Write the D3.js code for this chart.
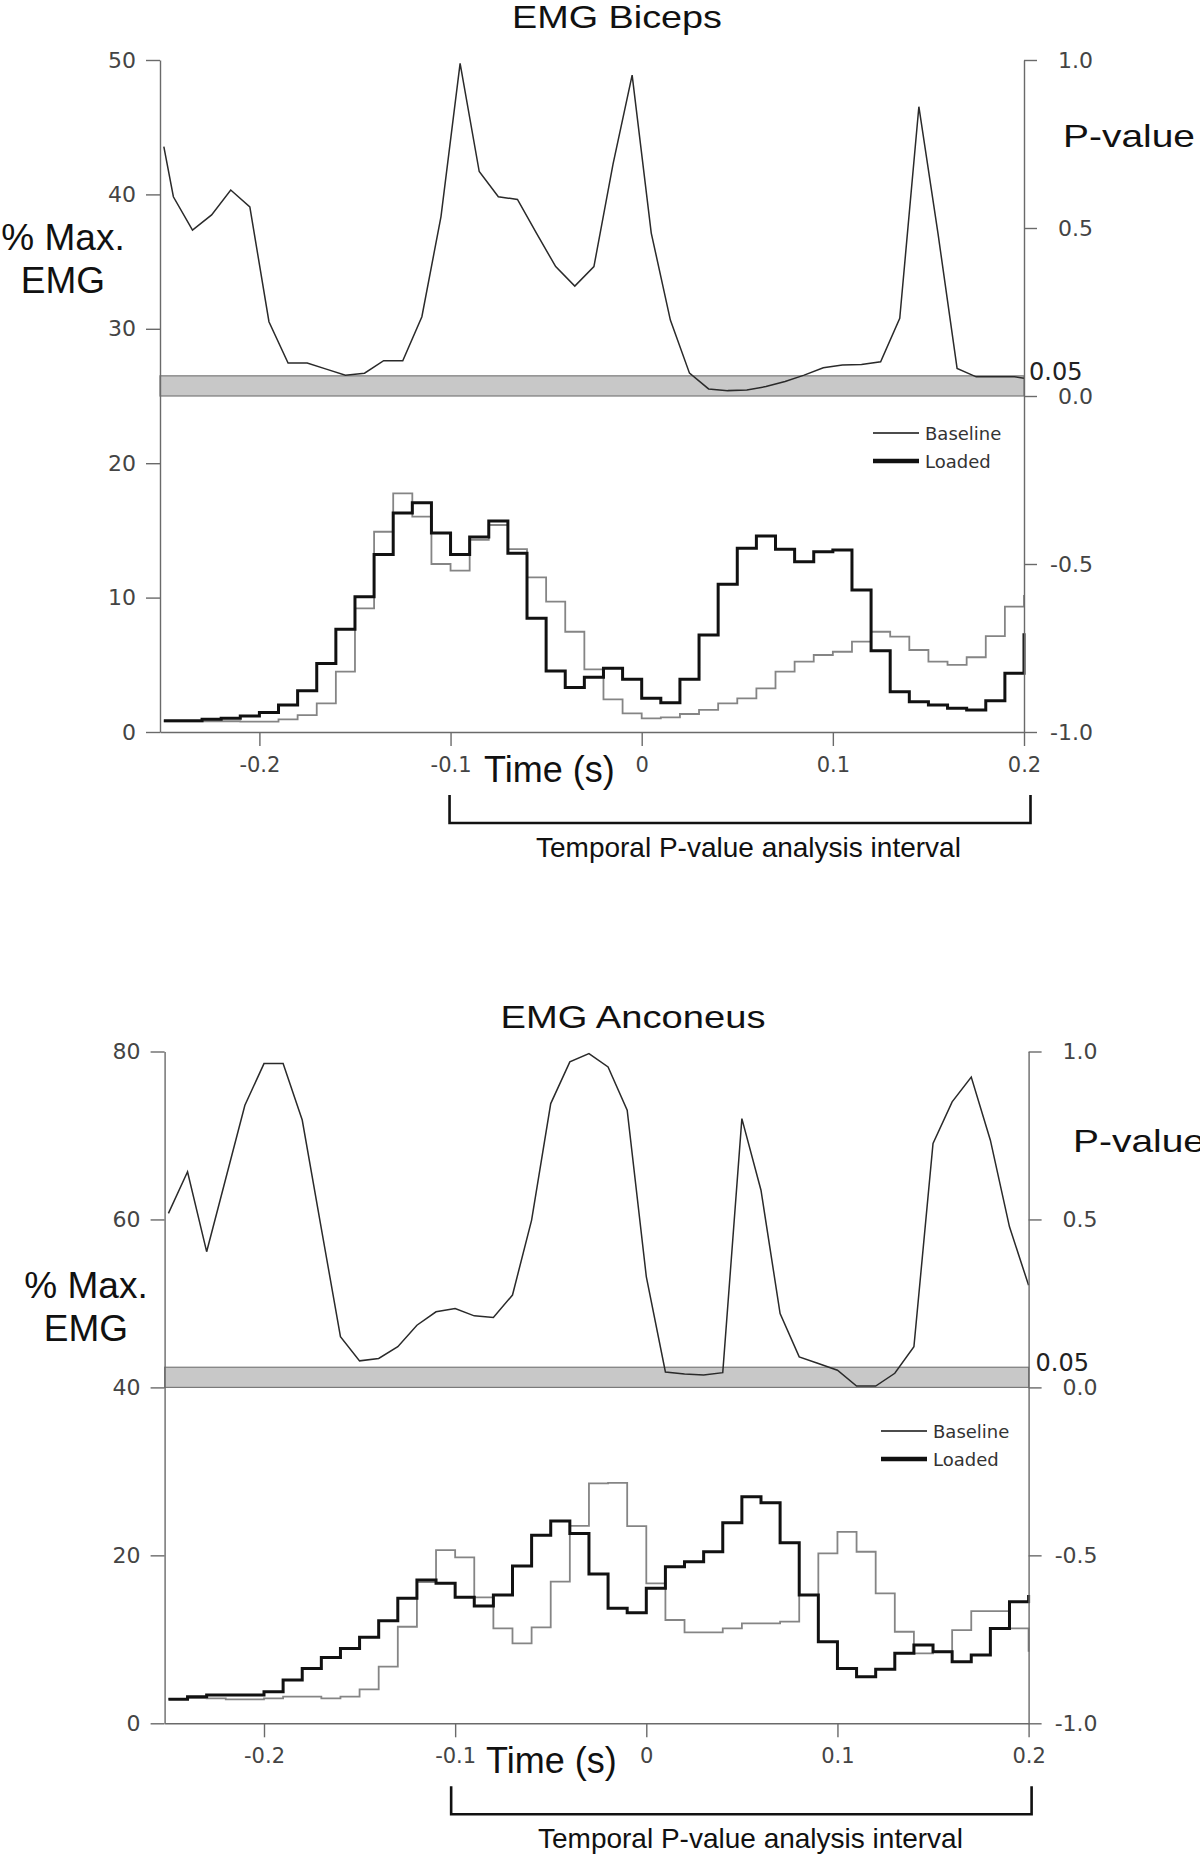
<!DOCTYPE html>
<html>
<head>
<meta charset="utf-8">
<script src="https://cdn.jsdelivr.net/npm/d3@7"></script>
<style>
  body { margin: 0; background: #fff; }
  .tick text { font-family: "DejaVu Sans", sans-serif; fill: #444; }
  .big { font-family: "Liberation Sans", Arial, sans-serif; fill: #111; }
</style>
</head>
<body>
<script>
// time grid: histogram bins are 10 ms wide, -0.25 s to 0.2 s (last entry closes the step)
const binTimes = d3.range(46).map(k => +(-0.25 + k * 0.01).toFixed(3));
// biceps P-values were sampled at bin centres, anconeus at bin edges
const bicepsPTimes = [-0.25].concat(d3.range(45).map(k => +(-0.245 + k * 0.01).toFixed(3)), [0.2]);
const anconeusPTimes = binTimes;

const timeTicks = [-0.2, -0.1, 0, 0.1, 0.2];
const pTicks = [-1, -0.5, 0, 0.5, 1];

// EMG Biceps
const bicepsLoaded = [0.84, 0.84, 0.94, 1.02, 1.19, 1.46, 2.0, 3.07, 5.1, 7.64, 10.07, 13.2, 16.3, 17.06, 14.8,
  13.2, 14.5, 15.7, 13.3, 8.46, 4.54, 3.32, 4.07, 4.74, 3.92, 2.51, 2.18, 3.92, 7.22, 11.0, 13.67, 14.58, 13.59,
  12.67, 13.42, 13.54, 10.57, 6.05, 3.0, 2.26, 2.0, 1.76, 1.64, 2.33, 4.37, 7.34];
const bicepsBaseline = [0.8, 0.8, 0.8, 0.8, 0.77, 0.77, 0.94, 1.26, 2.13, 4.49, 9.2, 14.9, 17.76, 16.02, 12.5,
  12.0, 14.29, 15.4, 13.6, 11.5, 9.7, 7.46, 4.66, 2.43, 1.39, 1.02, 1.09, 1.34, 1.64, 2.13, 2.5, 3.25, 4.49,
  5.23, 5.73, 5.97, 6.72, 7.46, 7.09, 6.1, 5.23, 4.99, 5.56, 7.14, 9.33, 10.2];
const bicepsP = [0.742, 0.593, 0.494, 0.539, 0.613, 0.563, 0.221, 0.098, 0.098, 0.08, 0.062, 0.068, 0.105, 0.105,
  0.236, 0.534, 0.99, 0.668, 0.593, 0.585, 0.484, 0.385, 0.327, 0.385, 0.69, 0.955, 0.485, 0.226, 0.068, 0.021,
  0.016, 0.018, 0.028, 0.043, 0.062, 0.084, 0.092, 0.094, 0.102, 0.231, 0.861, 0.484, 0.082, 0.057, 0.057,
  0.057, 0.053];

// EMG Anconeus
const anconeusLoaded = [2.86, 3.17, 3.37, 3.37, 3.37, 3.76, 5.15, 6.54, 7.85, 8.92, 10.24, 12.2, 14.88, 17.06,
  16.67, 15.0, 13.96, 15.27, 18.73, 22.4, 24.1, 22.6, 17.77, 13.69, 13.17, 16.07, 18.65, 19.24, 20.43, 23.88,
  26.98, 26.26, 21.5, 15.27, 9.71, 6.54, 5.55, 6.43, 8.33, 9.32, 8.52, 7.33, 8.13, 11.3, 14.48, 15.27];
const anconeusBaseline = [2.9, 3.0, 2.97, 2.86, 2.86, 2.97, 3.17, 3.17, 2.97, 3.17, 4.05, 6.74, 11.5, 16.8,
  20.63, 19.76, 15.0, 11.3, 9.52, 11.43, 16.86, 23.5, 28.57, 28.64, 23.49, 16.67, 12.3, 10.83, 10.83, 11.3,
  11.9, 11.9, 12.1, 15.27, 20.24, 22.8, 20.43, 15.48, 10.9, 8.33, 8.52, 11.1, 13.37, 13.37, 11.3, 8.52];
const anconeusP = [0.518, 0.642, 0.404, 0.622, 0.84, 0.964, 0.964, 0.796, 0.473, 0.151, 0.079, 0.086, 0.121,
  0.185, 0.225, 0.235, 0.213, 0.208, 0.275, 0.498, 0.845, 0.969, 0.994, 0.954, 0.825, 0.33, 0.046, 0.04,
  0.037, 0.044, 0.8, 0.587, 0.22, 0.091, 0.071, 0.051, 0.004, 0.004, 0.042, 0.121, 0.726, 0.85, 0.924,
  0.736, 0.478, 0.304];

const pBand = 0.06;   // shaded significance band (labelled 0.05)

const svg = d3.select("body").append("svg")
    .attr("width", 1200)
    .attr("height", 1854);

const fmt = d => (d === 0 ? "0" : d3.format(".1f")(d)).replace("\u2212", "-");
const fmtP = d => d3.format(".1f")(d).replace("\u2212", "-");

function drawPanel(c) {
    const g = svg.append("g");

    const x = d3.scaleLinear().domain([-0.252, 0.2]).range([c.x0, c.x1]);
    const yL = d3.scaleLinear().domain([0, c.emgMax]).range([c.yBot, c.yTop]);
    const yR = d3.scaleLinear().domain([-1, 1]).range([c.yBot, c.yTop]);

    // significance band
    g.append("rect")
        .attr("x", c.x0)
        .attr("y", yR(pBand))
        .attr("width", c.x1 - c.x0)
        .attr("height", yR(0) - yR(pBand))
        .attr("fill", "#c8c8c8")
        .attr("stroke", "#7a7a7a")
        .attr("stroke-width", 1.2);

    // P-value trace
    const pLine = d3.line().x(d => x(d[0])).y(d => yR(d[1]));
    g.append("path")
        .attr("d", pLine(c.pTimes.map((t, i) => [t, c.p[i]])))
        .attr("fill", "none")
        .attr("stroke", "#2a2a2a")
        .attr("stroke-width", 1.5);

    // step traces
    const step = d3.line().x(d => x(d[0])).y(d => yL(d[1])).curve(d3.curveStepAfter);
    g.append("path")
        .attr("d", step(binTimes.map((t, i) => [t, c.baseline[i]])))
        .attr("fill", "none")
        .attr("stroke", "#858585")
        .attr("stroke-width", 1.8);
    g.append("path")
        .attr("d", step(binTimes.map((t, i) => [t, c.loaded[i]])))
        .attr("fill", "none")
        .attr("stroke", "#111")
        .attr("stroke-width", 3);

    // axes
    const axL = g.append("g")
        .attr("transform", `translate(${c.x0},0)`)
        .call(d3.axisLeft(yL).tickValues(c.emgTicks).tickSize(14).tickPadding(10).tickSizeOuter(0));
    axL.selectAll("text").style("font-size", "22px");

    const axB = g.append("g")
        .attr("transform", `translate(0,${c.yBot})`)
        .call(d3.axisBottom(x).tickValues(timeTicks).tickFormat(fmt).tickSize(14).tickPadding(11).tickSizeOuter(0));
    axB.selectAll("text").style("font-size", "21px");

    const axR = g.append("g")
        .attr("transform", `translate(${c.x1},0)`)
        .call(d3.axisRight(yR).tickValues(pTicks).tickFormat(fmtP).tickSize(13).tickPadding(10).tickSizeOuter(0));
    axR.selectAll("text").style("font-size", "22px").attr("text-anchor", "end").attr("x", 69);

    g.selectAll(".domain, .tick line").attr("stroke", "#6a6a6a").attr("stroke-width", 1.4);

    // 0.05 label
    g.append("text")
        .attr("x", c.x1 + c.p05dx)
        .attr("y", yR(pBand) + 4)
        .style("font-family", "DejaVu Sans, sans-serif")
        .style("font-size", "24px")
        .attr("fill", "#222")
        .text("0.05");

    // titles and axis labels
    g.append("text").attr("class", "big")
        .attr("x", c.titleX).attr("y", c.titleY)
        .attr("text-anchor", "middle")
        .style("font-size", "32px")
        .attr("textLength", c.titleLen).attr("lengthAdjust", "spacingAndGlyphs")
        .text(c.title);

    g.append("text").attr("class", "big")
        .attr("x", c.pLabX).attr("y", c.pLabY)
        .style("font-size", "32px")
        .attr("textLength", 132).attr("lengthAdjust", "spacingAndGlyphs")
        .text("P-value");

    const yLab = g.append("text").attr("class", "big")
        .attr("text-anchor", "middle")
        .style("font-size", "37px");
    yLab.append("tspan").attr("x", c.yLabX).attr("y", c.yLabY).text("% Max.");
    yLab.append("tspan").attr("x", c.yLabX).attr("y", c.yLabY + 43).text("EMG");

    g.append("text").attr("class", "big")
        .attr("x", c.timeX).attr("y", c.yBot + 50)
        .style("font-size", "36px")
        .text("Time (s)");

    // analysis interval bracket
    const bx0 = x(-0.1) + c.brk[0];
    const bx1 = x(0.2) + c.brk[1];
    const by0 = c.yBot + 63;
    const by1 = c.yBot + 91;
    g.append("path")
        .attr("d", `M${bx0},${by0}V${by1}H${bx1}V${by0}`)
        .attr("fill", "none")
        .attr("stroke", "#111")
        .attr("stroke-width", 2.6);

    g.append("text").attr("class", "big")
        .attr("x", c.intX).attr("y", c.yBot + 125)
        .style("font-size", "28px")
        .text("Temporal P-value analysis interval");

    // legend
    const leg = g.append("g");
    [["Baseline", 1.6, c.legY], ["Loaded", 4.5, c.legY + 28]].forEach(([name, w, ly]) => {
        leg.append("line")
            .attr("x1", c.legX).attr("x2", c.legX + 46)
            .attr("y1", ly).attr("y2", ly)
            .attr("stroke", "#111").attr("stroke-width", w);
        leg.append("text")
            .attr("x", c.legX + 52).attr("y", ly + 7)
            .style("font-family", "DejaVu Sans, sans-serif")
            .style("font-size", "18px")
            .attr("fill", "#333")
            .text(name);
    });
}

drawPanel({
    title: "EMG Biceps", titleX: 617, titleY: 28, titleLen: 210,
    x0: 160, x1: 1024, yTop: 60, yBot: 732,
    emgMax: 50, emgTicks: [0, 10, 20, 30, 40, 50],
    loaded: bicepsLoaded, baseline: bicepsBaseline,
    pTimes: bicepsPTimes, p: bicepsP,
    p05dx: 5, pLabX: 1063, pLabY: 147,
    yLabX: 63, yLabY: 250,
    timeX: 484, intX: 536, brk: [-1, 6.5],
    legX: 873, legY: 433
});

drawPanel({
    title: "EMG Anconeus", titleX: 633, titleY: 1028, titleLen: 265,
    x0: 164.6, x1: 1028.6, yTop: 1051.5, yBot: 1723.3,
    emgMax: 80, emgTicks: [0, 20, 40, 60, 80],
    loaded: anconeusLoaded, baseline: anconeusBaseline,
    pTimes: anconeusPTimes, p: anconeusP,
    p05dx: 7, pLabX: 1073, pLabY: 1152,
    yLabX: 86, yLabY: 1298,
    timeX: 486, intX: 538, brk: [-4, 3],
    legX: 881, legY: 1431
});
</script>
</body>
</html>
